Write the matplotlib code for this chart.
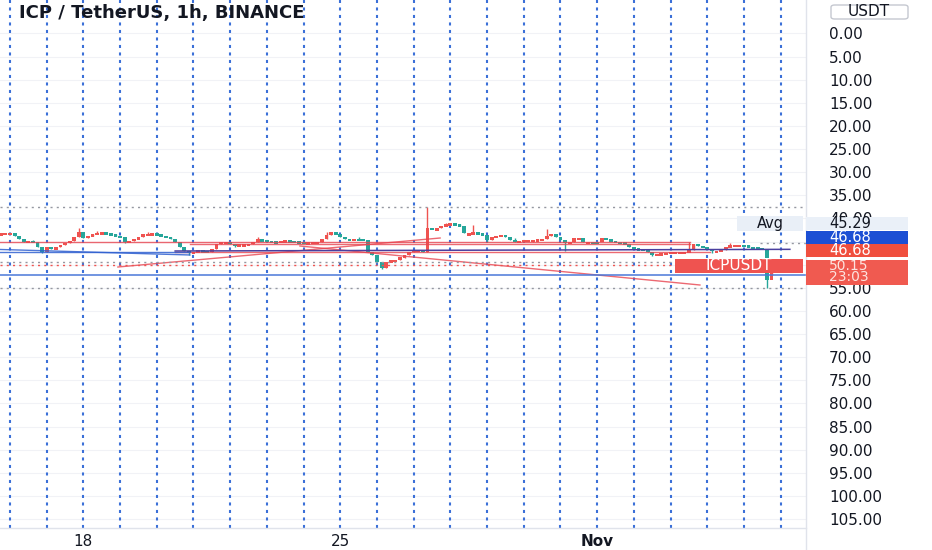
import matplotlib
matplotlib.use('Agg')
import matplotlib.pyplot as plt
import matplotlib.dates as mdates
from matplotlib.patches import Rectangle, FancyBboxPatch
from matplotlib.lines import Line2D
import pandas as pd

W, H = 932, 550

# 3h closes of ICPUSDT, first bar 2021-10-15 18:00
closes = [
    43.21, 43.15, 43.08, 43.69, 44.34, 45.03, 44.77, 45.20, 46.18, 47.15,
    46.11, 46.50, 46.28, 45.74, 45.31, 44.77, 44.01, 42.93, 44.23, 43.80,
    43.47, 43.15, 43.04, 43.21, 43.47, 43.69, 43.95, 44.99, 44.77, 44.45,
    44.12, 43.43, 43.26, 43.21, 43.47, 43.69, 44.01, 44.34, 45.09, 46.07,
    47.04, 47.47, 47.19, 46.93, 47.04, 47.15, 46.61, 45.42, 45.03, 44.99,
    45.42, 45.74, 45.63, 45.59, 45.42, 44.99, 44.51, 44.66, 44.81, 44.92,
    45.03, 44.88, 44.73, 44.77, 44.92, 45.09, 45.20, 45.20, 45.09, 44.99,
    44.45, 43.58, 43.04, 43.26, 44.01, 44.40, 44.49, 44.34, 44.40, 44.66,
    47.26, 47.80, 49.42, 50.72, 49.42, 49.09, 48.88, 48.34, 48.01, 47.26,
    46.82, 46.82, 47.15, 42.07, 42.13, 42.13, 41.64, 41.31, 41.05, 41.31,
    41.64, 43.21, 43.21, 43.04, 43.21, 43.58, 44.66, 44.12, 43.80, 43.58,
    44.12, 44.66, 44.99, 44.77, 44.66, 44.66, 44.66, 44.55, 44.34, 43.80,
    43.26, 43.91, 44.66, 45.38, 45.03, 44.23, 44.23, 45.03, 45.03, 45.09,
    45.20, 44.23, 44.51, 44.77, 44.99, 45.20, 45.63, 46.07, 46.46, 46.61,
    46.82, 47.26, 47.80, 47.69, 47.58, 47.37, 47.26, 47.19, 47.19, 47.15,
    46.93, 45.42, 45.96, 46.28, 46.50, 47.04, 47.04, 46.72, 46.18, 45.85,
    45.74, 45.74, 45.85, 46.07, 46.24, 46.39, 46.61, 53.31, 51.20, 50.15,
]
first_open = 43.30
wick_top = {17: 42.07, 93: 37.5, 103: 41.4, 119: 42.3, 150: 45.2, 7: 44.6,
            38: 44.4, 71: 43.0, 97: 40.9, 112: 44.3, 21: 42.8, 32: 42.9,
            56: 44.1, 78: 44.0, 127: 44.6, 136: 45.2, 159: 45.4}
wick_bottom = {9: 47.5, 83: 51.0, 123: 47.0, 167: 55.1, 41: 47.9, 27: 45.4,
               142: 48.2, 168: 52.3, 106: 45.2, 13: 46.2, 51: 46.1, 88: 48.6,
               116: 45.1, 131: 44.8, 155: 47.5}

# drawings: (day from Oct 16, price) pairs
red_lines = [
    ((-0.27, 45.09), (18.53, 45.09)),
    ((4.90, 45.48), (18.53, 45.48)),
    ((4.50, 47.15), (19.07, 47.15)),
    ((2.94, 50.50), (11.72, 44.23)),
    ((7.90, 45.96), (18.80, 54.39)),
]
blue_lines = [
    ((-0.27, 46.71), (4.90, 47.90)),
    ((-0.27, 47.36), (4.90, 47.36)),
]
navy_line = ((4.50, 47.04), (21.25, 46.68))
blue_level = 52.22
grey_levels = [37.52, 49.48, 55.10]
last_price = 50.15
avg_price = 45.29

price_ticks = list(range(0, 110, 5))
hidden_ticks = [45, 50]  # covered by the price tags
time_ticks = ['2021-10-18', '2021-10-25', '2021-11-01']
time_labels = ['18', '25', 'Nov']

up, down = '#26a69a', '#ef5350'
base = mdates.date2num(pd.Timestamp('2021-10-16'))


def px(x, y):
    return x / W, 1 - y / H


plt.rcParams['lines.scale_dashes'] = False
fig = plt.figure(figsize=(W / 100, H / 100), dpi=100)
ax = fig.add_axes([0, 22 / H, 806 / W, 528 / H])
ax.set_xlim(base - 0.2725, base + 21.69)
ax.set_ylim(106.92, -7.22)

# faint grid
for v in price_ticks:
    ax.axhline(v, color='#f1f2f6', lw=0.8, zorder=0)

# daily blue dashed lines
for d in pd.date_range('2021-10-16', '2021-11-06', freq='D'):
    ax.axvline(mdates.date2num(d), color='#3b70d8', lw=1.5, dashes=(2.2, 3.2), zorder=1)

# candles
t = mdates.date2num(pd.date_range('2021-10-15 18:00', periods=len(closes), freq='3h'))
opens = [first_open] + closes[:-1]
for i, (o, c) in enumerate(zip(opens, closes)):
    col = up if c > o else down
    lo, hi = min(o, c), max(o, c)
    ax.vlines(t[i], wick_top.get(i, lo), wick_bottom.get(i, hi), color=col, lw=1, zorder=2)
    ax.bar(t[i], max(hi - lo, 0.5), bottom=lo, width=0.105, color=col, zorder=2)

# drawings
for (d0, p0), (d1, p1) in red_lines:
    ax.plot([base + d0, base + d1], [p0, p1], color='#e8434f', lw=1, alpha=0.8, zorder=3)
for (d0, p0), (d1, p1) in blue_lines:
    ax.plot([base + d0, base + d1], [p0, p1], color='#3060d0', lw=1, alpha=0.85, zorder=3)
(d0, p0), (d1, p1) = navy_line
ax.plot([base + d0, base + d1], [p0, p1], color='#4a3f9f', lw=1.1, zorder=3)
ax.axhline(blue_level, color='#4a78d8', lw=1.1, zorder=3)
for g in grey_levels:
    ax.axhline(g, color='#9598a1', lw=1, dashes=(1.5, 3), zorder=3)
ax.axhline(last_price, color='#ef5350', lw=1, dashes=(1.5, 3), zorder=3)
ax.plot([base + 20.44, base + 21.69], [avg_price, avg_price], color='#9598a1', lw=1,
        dashes=(1.5, 3), zorder=3)

# axes styling
for s in ['top', 'left', 'right', 'bottom']:
    ax.spines[s].set_visible(False)
ax.yaxis.tick_right()
ax.set_yticks(price_ticks)
ax.set_yticklabels(['' if v in hidden_ticks else f'{v:.2f}' for v in price_ticks])
ax.tick_params(axis='y', length=0, pad=16.5, labelsize=11, labelcolor='#131722')
ax.set_xticks([mdates.date2num(pd.Timestamp(d)) for d in time_ticks])
ax.set_xticklabels(time_labels)
ax.tick_params(axis='x', length=0, pad=4, labelsize=11, labelcolor='#131722')
ax.get_xticklabels()[2].set_fontweight('bold')

fig.add_artist(Line2D([806 / W] * 2, [0, 1], transform=fig.transFigure, color='#e0e3eb', lw=1))
fig.add_artist(Line2D([0, 806 / W], [1 - 528 / H] * 2, transform=fig.transFigure,
                      color='#e0e3eb', lw=1))

# title
fig.text(*px(19, 13), 'ICP / TetherUS, 1h, BINANCE', fontsize=13, fontweight='bold',
         color='#131722', va='center', ha='left')

# USDT button
bx, by = px(831, 19)
fig.add_artist(FancyBboxPatch((bx, by), 77 / W, 14 / H, boxstyle='round,pad=0,rounding_size=0.004',
                              transform=fig.transFigure, fc='white', ec='#c5c8d0', lw=1))
fig.text(*px(869, 12), 'USDT', fontsize=11, color='#131722', ha='center', va='center')


def tag(x0, y0, x1, y1, fc, text, tc, tx=None, ha='left', size=10):
    fx, fy = px(x0, y1)
    fig.add_artist(Rectangle((fx, fy), (x1 - x0) / W, (y1 - y0) / H, transform=fig.transFigure,
                             fc=fc, ec='none', zorder=5))
    if tx is None:
        tx = x0 + 23
    fig.text(*px(tx, (y0 + y1) / 2), text, fontsize=size, color=tc, ha=ha, va='center', zorder=6)


tag(737, 216, 803, 231, '#e9eff7', 'Avg', '#131722', tx=770, ha='center', size=10.5)
tag(675, 259, 803, 273, '#ef5350', 'ICPUSDT', 'white', tx=739, ha='center', size=11)
tag(806, 217, 908, 230, '#eaf0f8', f'{avg_price:.2f}', '#131722', size=10.5)
tag(806, 231, 908, 244, '#1c4fd4', '46.68', 'white', size=10.5)
tag(806, 244, 908, 257, '#f04f3e', '46.68', 'white', size=10.5)
tag(806, 260, 908, 285, '#f05a50', '', 'white')
fig.text(*px(829, 266), f'{last_price:.2f}', fontsize=10, color='#fde3df', ha='left',
         va='center', zorder=6)
fig.text(*px(829, 277), '23:03', fontsize=10, color='#fde3df', ha='left', va='center', zorder=6)

fig.savefig('out.png', dpi=100, facecolor='white')
